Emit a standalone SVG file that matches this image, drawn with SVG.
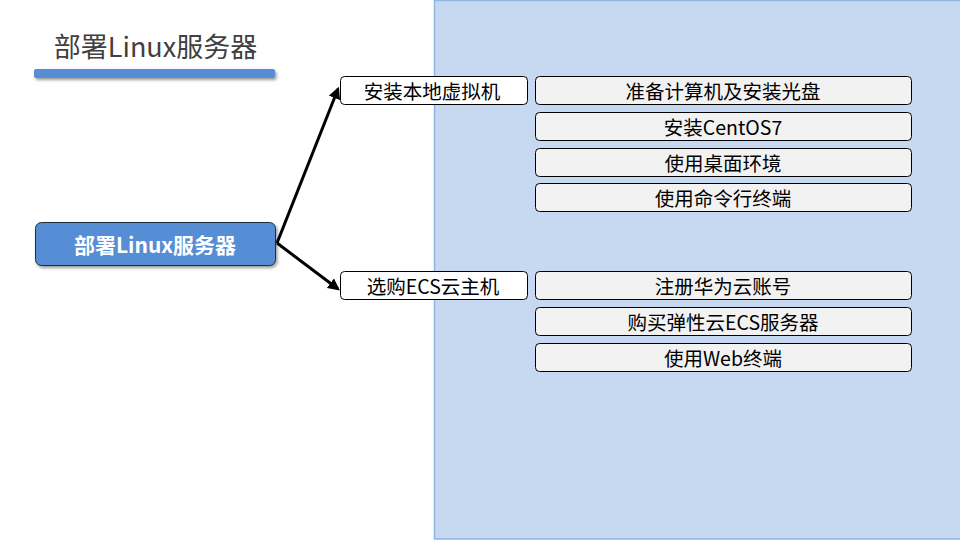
<svg xmlns="http://www.w3.org/2000/svg" width="960" height="540" viewBox="0 0 960 540">
<defs>
<style>
text{font-family:"Microsoft YaHei","Noto Sans CJK SC",sans-serif;text-anchor:middle;dominant-baseline:central}
.l2 rect{fill:#fff;stroke:#000;stroke-width:1}
.l3 rect{fill:#f2f2f2;stroke:#000;stroke-width:1}
.l2 text,.l3 text{font-size:19.5px;fill:#000}
.conn{stroke:#000;stroke-width:3;fill:none;marker-end:url(#ah)}
</style>
<marker id="ah" viewBox="0 0 10 10" refX="8" refY="5" markerWidth="4" markerHeight="4" orient="auto" markerUnits="strokeWidth">
<path d="M0,0 L10,5 L0,10 z" fill="#000"/>
</marker>
<filter id="sh" x="-10%" y="-50%" width="120%" height="200%">
<feDropShadow dx="1.5" dy="2" stdDeviation="1.5" flood-color="#000" flood-opacity="0.4"/>
</filter>
</defs>
<rect width="960" height="540" fill="#fff"/>
<rect x="434.5" y="0.5" width="530" height="538.5" fill="#c6d9f0" stroke="#8eb4e3" stroke-width="1.5"/>
<g id="title">
<text x="155.5" y="45" style="font-size:27px;fill:#404040">部署Linux服务器</text>
<rect x="34" y="69" width="241" height="9" rx="2" fill="#558ed5" filter="url(#sh)"/>
</g>
<g id="connectors">
<path class="conn" d="M277,243 L338,89"/>
<path class="conn" d="M277,243 L338,289"/>
</g>
<g id="root">
<rect x="35.5" y="222.5" width="240" height="43" rx="6" fill="#558ed5" stroke="#1f2d3d" stroke-width="1" filter="url(#sh)"/>
<text x="155" y="244" style="font-size:21px;font-weight:bold;fill:#fff">部署Linux服务器</text>
</g>
<g id="n-local" class="l2">
<rect x="340.5" y="76.5" width="187" height="28" rx="4"/>
<text x="432" y="90">安装本地虚拟机</text>
</g>
<g id="n-ecs" class="l2">
<rect x="340.5" y="271.5" width="187" height="28" rx="4"/>
<text x="433" y="285">选购ECS云主机</text>
</g>
<g id="n-prep" class="l3">
<rect x="535.5" y="76.5" width="376" height="28" rx="4"/>
<text x="723" y="90">准备计算机及安装光盘</text>
</g>
<g id="n-centos" class="l3">
<rect x="535.5" y="112.5" width="376" height="28" rx="4"/>
<text x="723" y="126">安装CentOS7</text>
</g>
<g id="n-desktop" class="l3">
<rect x="535.5" y="148.5" width="376" height="28" rx="4"/>
<text x="723" y="162">使用桌面环境</text>
</g>
<g id="n-cli" class="l3">
<rect x="535.5" y="183.5" width="376" height="28" rx="4"/>
<text x="723" y="197">使用命令行终端</text>
</g>
<g id="n-reg" class="l3">
<rect x="535.5" y="271.5" width="376" height="28" rx="4"/>
<text x="723" y="285">注册华为云账号</text>
</g>
<g id="n-buy" class="l3">
<rect x="535.5" y="307.5" width="376" height="28" rx="4"/>
<text x="723" y="321">购买弹性云ECS服务器</text>
</g>
<g id="n-web" class="l3">
<rect x="535.5" y="343.5" width="376" height="28" rx="4"/>
<text x="723" y="357">使用Web终端</text>
</g>
</svg>
